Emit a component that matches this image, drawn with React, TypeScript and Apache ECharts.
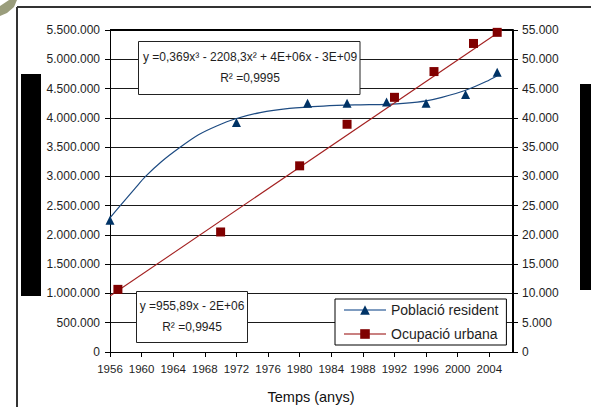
import React, { useEffect, useRef } from "react";
import * as echarts from "echarts";

const popYears = [1956, 1972, 1981, 1986, 1991, 1996, 2001, 2005];
const popValues = [2250000, 3920000, 4250000, 4250000, 4270000, 4250000, 4400000, 4780000];

const ocupYears = [1957, 1970, 1980, 1986, 1992, 1997, 2002, 2005];
const ocupValues = [10700, 20500, 31800, 38900, 43500, 47900, 52700, 54600];

const popTrendYears = [1956, 1957.3, 1959.2, 1960.5, 1962.5, 1964.7, 1967.2, 1969.5, 1971.8, 1975, 1978.7, 1983, 1987, 1991, 1993.5, 1996, 1998, 2001, 2003.6, 2005];
const popTrendValues = [2290000, 2500000, 2800000, 3000000, 3250000, 3480000, 3710000, 3860000, 3980000, 4090000, 4160000, 4200000, 4220000, 4230000, 4250000, 4290000, 4350000, 4470000, 4620000, 4720000];

const ocupTrendYears = [1956, 2005.6];
const ocupTrendValues = [9560, 55000];

const seriesNames = ["Població resident", "Ocupació urbana"];
const xTitle = "Temps (anys)";
const eq1 = ["y =0,369x³ - 2208,3x² + 4E+06x - 3E+09", "R² =0,9995"];
const eq2 = ["y =955,89x - 2E+06", "R² =0,9945"];

const fmt = (v: number) => String(v).replace(/\B(?=(\d{3})+(?!\d))/g, ".");
const zip = (xs: number[], ys: number[]) => xs.map((x, i) => [x, ys[i]]);

const FONT = "'Liberation Sans', Arial, sans-serif";
const TXT = "#1e1e1e";

export default function App() {
  const ref = useRef<HTMLDivElement>(null);
  useEffect(() => {
    if (!ref.current) return;
    const chart = echarts.init(ref.current, null, { renderer: "svg" });
    chart.setOption({
      animation: false,
      backgroundColor: "#ffffff",
      textStyle: { fontFamily: FONT },
      grid: { left: 110, right: 78, top: 30, bottom: 55, containLabel: false },
      xAxis: {
        type: "value",
        min: 1956,
        max: 2007,
        interval: 4,
        axisLine: { show: true, lineStyle: { color: "#000", width: 1 } },
        axisTick: { show: true, length: 5, lineStyle: { color: "#000" } },
        splitLine: { show: false },
        axisLabel: {
          showMaxLabel: false,
          formatter: (v: number) => String(v),
          fontSize: 11.5,
          color: TXT,
          margin: 11,
          fontFamily: FONT,
        },
      },
      yAxis: [
        {
          type: "value",
          min: 0,
          max: 5500000,
          interval: 500000,
          position: "left",
          axisLine: { show: true, lineStyle: { color: "#000", width: 1 } },
          axisTick: { show: true, length: 5, lineStyle: { color: "#000" } },
          splitLine: { show: true, lineStyle: { color: "#1a1a1a", width: 1 } },
          axisLabel: { formatter: fmt, fontSize: 12, color: TXT, margin: 10, fontFamily: FONT },
        },
        {
          type: "value",
          min: 0,
          max: 55000,
          interval: 5000,
          position: "right",
          axisLine: { show: true, lineStyle: { color: "#000", width: 2 } },
          axisTick: { show: true, length: 5, lineStyle: { color: "#000" } },
          splitLine: { show: false },
          axisLabel: { formatter: fmt, fontSize: 12, color: TXT, margin: 9, fontFamily: FONT },
        },
      ],
      legend: {
        left: 335,
        top: 299,
        orient: "vertical",
        backgroundColor: "#fff",
        borderColor: "#000",
        borderWidth: 1,
        borderRadius: 0,
        padding: [4, 8, 4, 8],
        itemWidth: 42,
        itemHeight: 12,
        itemGap: 10,
        z: 20,
        textStyle: { fontSize: 14, color: TXT, fontFamily: FONT },
        data: [
          { name: seriesNames[0], lineStyle: { color: "#7f9cc0", width: 2 } },
          { name: seriesNames[1], lineStyle: { color: "#c98080", width: 2 } },
        ],
      },
      series: [
        {
          name: "popTrend",
          type: "line",
          yAxisIndex: 0,
          data: zip(popTrendYears, popTrendValues),
          showSymbol: false,
          smooth: 0.3,
          lineStyle: { color: "#1d4b82", width: 1.2 },
          z: 2,
        },
        {
          name: "ocupTrend",
          type: "line",
          yAxisIndex: 1,
          data: zip(ocupTrendYears, ocupTrendValues),
          showSymbol: false,
          lineStyle: { color: "#a32020", width: 1.1 },
          z: 2,
        },
        {
          name: seriesNames[0],
          type: "line",
          yAxisIndex: 0,
          data: zip(popYears, popValues),
          symbol: "triangle",
          symbolSize: [9, 9],
          lineStyle: { color: "transparent", width: 0 },
          itemStyle: { color: "#003366" },
          z: 4,
        },
        {
          name: seriesNames[1],
          type: "line",
          yAxisIndex: 1,
          data: zip(ocupYears, ocupValues),
          symbol: "rect",
          symbolSize: [9, 9],
          lineStyle: { color: "transparent", width: 0 },
          itemStyle: { color: "#800000" },
          z: 4,
        },
      ],
      graphic: [
        { type: "line", shape: { x1: 17, y1: 7, x2: 591, y2: 7 }, style: { stroke: "#333", lineWidth: 2 }, z: 1 },
        { type: "line", shape: { x1: 17, y1: 7, x2: 17, y2: 407 }, style: { stroke: "#333", lineWidth: 2 }, z: 1 },
        { type: "line", shape: { x1: 110, y1: 30, x2: 513, y2: 30 }, style: { stroke: "#000", lineWidth: 2 }, z: 1 },
        {
          type: "polygon",
          shape: { points: [[9, 0], [17, 0], [14, 7], [7, 13], [0, 16], [0, 6]] },
          style: { fill: "#9a9d7c" },
        },
        { type: "rect", shape: { x: 21, y: 74, width: 20, height: 222 }, style: { fill: "#000" } },
        { type: "rect", shape: { x: 580, y: 84, width: 11, height: 206 }, style: { fill: "#000" } },
        {
          type: "rect",
          z: 10,
          shape: { x: 138.5, y: 41.5, width: 221.5, height: 53 },
          style: { fill: "#fff", stroke: "#222", lineWidth: 1 },
        },
        {
          type: "text",
          z: 11,
          x: 250,
          y: 57,
          style: { text: eq1[0], fill: TXT, font: `12px ${FONT}`, align: "center", verticalAlign: "middle" },
        },
        {
          type: "text",
          z: 11,
          x: 250,
          y: 78,
          style: { text: eq1[1], fill: TXT, font: `12px ${FONT}`, align: "center", verticalAlign: "middle" },
        },
        {
          type: "rect",
          z: 10,
          shape: { x: 136.5, y: 291.5, width: 111, height: 51 },
          style: { fill: "#fff", stroke: "#222", lineWidth: 1 },
        },
        {
          type: "text",
          z: 11,
          x: 192,
          y: 306,
          style: { text: eq2[0], fill: TXT, font: `12px ${FONT}`, align: "center", verticalAlign: "middle" },
        },
        {
          type: "text",
          z: 11,
          x: 192,
          y: 327,
          style: { text: eq2[1], fill: TXT, font: `12px ${FONT}`, align: "center", verticalAlign: "middle" },
        },
        {
          type: "text",
          z: 11,
          x: 311,
          y: 397,
          style: { text: xTitle, fill: "#111", font: `14.5px ${FONT}`, align: "center", verticalAlign: "middle" },
        },
      ],
    });
    return () => chart.dispose();
  }, []);
  return (
    <div
      ref={ref}
      style={{ position: "fixed", left: 0, top: 0, width: 591, height: 407, background: "#fff" }}
    />
  );
}
